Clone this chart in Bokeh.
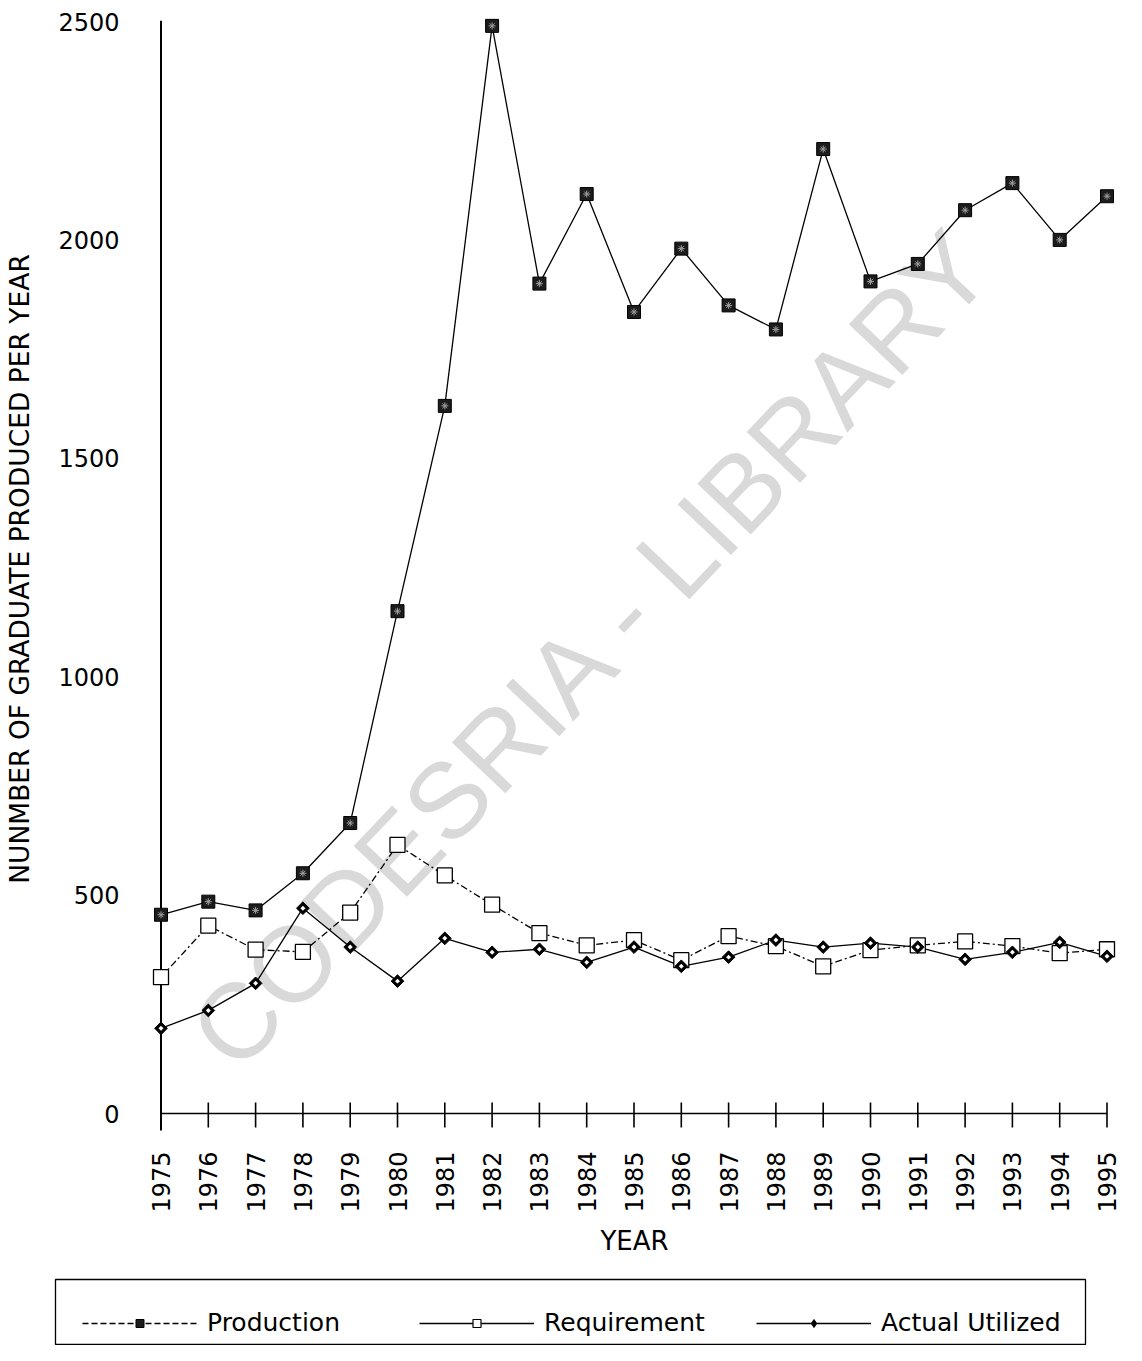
import numpy as np
from bokeh.plotting import figure
from bokeh.models import Range1d, FixedTicker, Legend, LegendItem, Label
from bokeh.embed import file_html
from bokeh.resources import INLINE

# ---------------- data ----------------
years = list(range(1975, 1996))
production = [455, 485, 465, 550, 665, 1150, 1620, 2490, 1900, 2105, 1835, 1980,
              1850, 1795, 2208, 1905, 1945, 2068, 2130, 2000, 2100]
requirement = [312, 430, 375, 370, 460, 615, 545, 478, 413, 385, 397, 351,
               406, 383, 337, 374, 385, 394, 383, 367, 376]
actual = [195, 236, 298, 470, 381, 303, 401, 369, 376, 346, 381, 337,
          358, 397, 381, 390, 381, 353, 369, 392, 360]
y_ticks = [0, 500, 1000, 1500, 2000, 2500]
year_labels = {y: str(y) for y in years}
series_names = ["Production", "Requirement", "Actual Utilized"]

FONT = "DejaVu Sans"
PX_Y = 0.4368    # pixels per unit (vertical)
PX_X = 47.3      # pixels per year
X0_OFF = 18.5    # px from frame left to first year

# ---------------- main chart ----------------
# frame: left 142, right 1126, top 2, bottom 1135
p = figure(width=1126, height=1271,
           x_range=Range1d(1975 - X0_OFF / PX_X, 1975 + (984 - X0_OFF) / PX_X),
           y_range=Range1d(-22 / PX_Y, 1111 / PX_Y),
           output_backend="svg", toolbar_location=None,
           min_border_left=142, min_border_right=0,
           min_border_top=2, min_border_bottom=136)
p.grid.visible = False
p.outline_line_color = None
p.background_fill_color = "white"
p.border_fill_color = "white"

# watermark
wm = Label(x=450, y=488, x_units="screen", y_units="screen",
           text="CODESRIA - LIBRARY", angle=np.deg2rad(46.5),
           text_align="center", text_baseline="middle",
           text_font="Liberation Sans", text_font_size="107px",
           text_color="#d9d9d9", level="underlay")
p.add_layout(wm)

# axes (labels only, lines drawn below)
xa = p.xaxis[0]
xa.ticker = FixedTicker(ticks=years)
xa.major_label_overrides = year_labels
xa.major_label_orientation = np.pi / 2
xa.axis_line_color = None
xa.major_tick_line_color = None
xa.minor_tick_line_color = None
xa.major_label_standoff = 10
xa.major_label_text_font = FONT
xa.major_label_text_font_size = "24px"
xa.major_label_text_color = "black"
xa.axis_label = "YEAR"
xa.axis_label_text_font = FONT
xa.axis_label_text_font_size = "26px"
xa.axis_label_text_font_style = "normal"
xa.axis_label_text_color = "black"
xa.axis_label_standoff = 10

ya = p.yaxis[0]
ya.ticker = FixedTicker(ticks=y_ticks)
ya.axis_line_color = None
ya.major_tick_line_color = None
ya.minor_tick_line_color = None
ya.major_label_standoff = 17
ya.major_label_text_font = FONT
ya.major_label_text_font_size = "24px"
ya.major_label_text_color = "black"
ya.axis_label = "NUNMBER OF GRADUATE PRODUCED PER YEAR"
ya.axis_label_text_font = FONT
ya.axis_label_text_font_size = "26.5px"
ya.axis_label_text_font_style = "normal"
ya.axis_label_text_color = "black"
ya.axis_label_standoff = 20

# axis lines and year ticks
p.segment(x0=[years[0]], y0=[-17 / PX_Y], x1=[years[0]], y1=[2502],
          line_color="black", line_width=2)
p.segment(x0=[years[0]], y0=[0], x1=[years[-1]], y1=[0],
          line_color="black", line_width=1.3)
p.segment(x0=years, y0=[-14 / PX_Y] * len(years), x1=years, y1=[11 / PX_Y] * len(years),
          line_color="black", line_width=1.6)

# series lines
p.line(years, production, line_color="black", line_width=1.3)
p.line(years, requirement, line_color="black", line_width=1.3, line_dash="7 3 2 3")
p.line(years, actual, line_color="black", line_width=1.3)

# markers
p.scatter(years, production, marker="square", size=13,
          fill_color="#1c1c1c", line_color="black", line_width=1)
p.scatter(years, production, marker="asterisk", size=7,
          line_color="#a0a0a0", line_width=1)
p.scatter(years, requirement, marker="square", size=15,
          fill_color="white", line_color="black", line_width=1.3)
p.scatter(years, actual, marker="square", size=9, angle=np.pi / 4,
          fill_color="black", line_color="black", line_width=1)
p.scatter(years, actual, marker="square", size=3.5, angle=np.pi / 4,
          fill_color="white", line_color=None)

# ---------------- legend box ----------------
# frame: left 55, right 1085, top 1279, bottom 1345
leg = figure(width=1126, height=74, x_range=Range1d(0, 1), y_range=Range1d(0, 1),
             x_axis_type=None, y_axis_type=None,
             output_backend="svg", toolbar_location=None,
             min_border_left=55, min_border_right=41,
             min_border_top=8, min_border_bottom=0)
leg.grid.visible = False
leg.outline_line_color = "black"
leg.outline_line_width = 1.3
leg.border_fill_color = "white"

l1 = leg.line(years, production, line_color="black", line_width=1.3, line_dash="6 3")
m1 = leg.scatter(years, production, marker="square", size=13,
                 fill_color="#1c1c1c", line_color="black")
l2 = leg.line(years, requirement, line_color="black", line_width=1.3)
m2 = leg.scatter(years, requirement, marker="square", size=15,
                 fill_color="white", line_color="black", line_width=1.2)
l3 = leg.line(years, actual, line_color="black", line_width=1.3)
m3 = leg.scatter(years, actual, marker="diamond", size=12,
                 fill_color="black", line_color="black")

legend = Legend(items=[LegendItem(label=series_names[0], renderers=[l1, m1]),
                       LegendItem(label=series_names[1], renderers=[l2, m2]),
                       LegendItem(label=series_names[2], renderers=[l3, m3])],
                orientation="horizontal", location=(27, 8),
                padding=0, margin=0, spacing=0,
                glyph_width=115, glyph_height=20, label_standoff=10,
                label_width=212, label_height=20,
                label_text_font=FONT, label_text_font_size="25px",
                label_text_color="black",
                border_line_color=None, background_fill_alpha=0)
leg.add_layout(legend)

open("out.html", "w").write(file_html([p, leg], INLINE))
